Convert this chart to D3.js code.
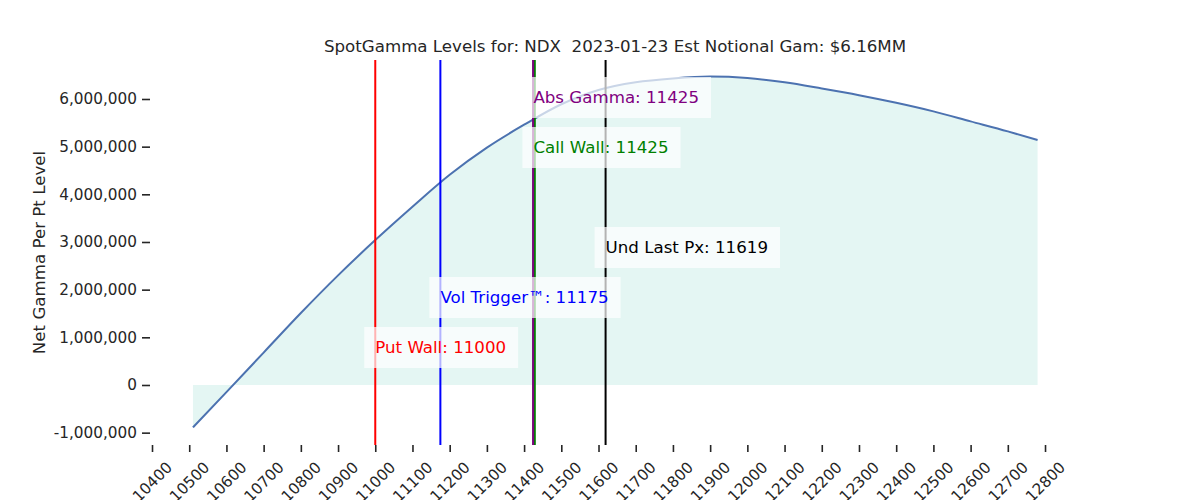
<!DOCTYPE html>
<html>
<head>
<meta charset="utf-8">
<script src="https://cdn.jsdelivr.net/npm/d3@7"></script>
<style>
  html, body { margin: 0; padding: 0; background: #ffffff; }
  svg { display: block; font-family: "DejaVu Sans", sans-serif; }
</style>
</head>
<body>
<svg id="chart" width="1200" height="500"></svg>
<script>
// ---- data ----
const titleText = "SpotGamma Levels for: NDX  2023-01-23 Est Notional Gam: $6.16MM";
const yLabelText = "Net Gamma Per Pt Level";
const strikes = [10510, 10600, 10700, 10800, 10900, 11000, 11100, 11200, 11300, 11400, 11500, 11600, 11700, 11800, 11900, 12000, 12100, 12200, 12300, 12400, 12500, 12600, 12700, 12780];
const netGamma = [-890000, -150000, 680000, 1510000, 2300000, 3040000, 3740000, 4410000, 4980000, 5460000, 5890000, 6190000, 6350000, 6430000, 6470000, 6440000, 6350000, 6220000, 6080000, 5920000, 5740000, 5530000, 5320000, 5140000];
const xTickValues = [10400, 10500, 10600, 10700, 10800, 10900, 11000, 11100, 11200, 11300, 11400, 11500, 11600, 11700, 11800, 11900, 12000, 12100, 12200, 12300, 12400, 12500, 12600, 12700, 12800];
const yTickValues = [-1000000, 0, 1000000, 2000000, 3000000, 4000000, 5000000, 6000000];
const levelNames = ["Call Wall", "Abs Gamma", "Und Last Px", "Vol Trigger™", "Put Wall"];
const levelValues = [11425, 11425, 11619, 11175, 11000];

// ---- styling / layout (not data) ----
const levelColors = ["green", "purple", "black", "blue", "red"];
const levelRows = [1, 0, 3, 4, 5];
const levelWidths = [3.4, 2, 2, 2, 2];
const levelShift = [0.7, -0.3, 0, 0, 0];
const M = { left: 150, right: 1080, top: 60, bottom: 445 };
const ink = "#262626";

const svg = d3.select("#chart");

const x = d3.scaleLinear().domain([10394.6, 12894]).range([M.left, M.right]);
const y = d3.scaleLinear().domain([-1259000, 6818000]).range([M.bottom, M.top]);

const data = strikes.map((s, i) => ({ s, g: netGamma[i] }));

// fill between 0 and curve
const area = d3.area()
  .x(d => x(d.s))
  .y0(y(0))
  .y1(d => y(d.g))
  .curve(d3.curveMonotoneX);
svg.append("path").datum(data)
  .attr("d", area)
  .attr("fill", "#e4f6f3");

// curve
const line = d3.line()
  .x(d => x(d.s))
  .y(d => y(d.g))
  .curve(d3.curveMonotoneX);
svg.append("path").datum(data)
  .attr("d", line)
  .attr("fill", "none")
  .attr("stroke", "#4c72b0")
  .attr("stroke-width", 2);

// vertical level lines
levelValues.forEach((v, i) => {
  svg.append("line")
    .attr("x1", x(v) + levelShift[i]).attr("x2", x(v) + levelShift[i])
    .attr("y1", M.top).attr("y2", M.bottom)
    .attr("stroke", levelColors[i])
    .attr("stroke-width", levelWidths[i]);
});

// labels with boxes
levelValues.forEach((v, i) => {
  const cy = M.top + 37.5 + 50 * levelRows[i];
  const g = svg.append("g");
  const t = g.append("text")
    .attr("x", x(v))
    .attr("y", cy)
    .attr("dominant-baseline", "central")
    .attr("font-size", "16.67px")
    .attr("fill", levelColors[i])
    .text(levelNames[i] + ": " + v);
  const bb = t.node().getBBox();
  g.insert("rect", "text")
    .attr("x", x(v) - 11)
    .attr("y", cy - 20.5)
    .attr("width", bb.width + 23)
    .attr("height", 41)
    .attr("fill", "#ffffff")
    .attr("fill-opacity", 0.7);
});

// y axis
const commaFmt = d3.format(",");
const yAxis = d3.axisLeft(y)
  .tickValues(yTickValues)
  .tickFormat(d => commaFmt(d).replace("\u2212", "-"))
  .tickSize(8)
  .tickPadding(5);
const gy = svg.append("g").attr("transform", `translate(${M.left},0)`).call(yAxis);
gy.select(".domain").remove();
gy.selectAll(".tick line").attr("stroke", ink).attr("stroke-width", 1.6);
gy.selectAll(".tick text").attr("fill", ink).attr("font-size", "15.28px")
  .attr("font-family", "DejaVu Sans, sans-serif");

// x axis
const xAxis = d3.axisBottom(x)
  .tickValues(xTickValues)
  .tickFormat(d3.format("d"))
  .tickSize(7);
const gx = svg.append("g").attr("transform", `translate(0,${M.bottom})`).call(xAxis);
gx.select(".domain").remove();
gx.selectAll(".tick line").attr("stroke", ink).attr("stroke-width", 1.6);
gx.selectAll(".tick text")
  .attr("fill", ink).attr("font-size", "15.28px")
  .attr("font-family", "DejaVu Sans, sans-serif")
  .attr("text-anchor", "middle")
  .attr("dominant-baseline", "central")
  .attr("y", 0).attr("dy", null)
  .attr("transform", "translate(0,37) rotate(-45)");

// title
svg.append("text")
  .attr("x", (M.left + M.right) / 2)
  .attr("y", 52)
  .attr("text-anchor", "middle")
  .attr("font-size", "16.67px")
  .attr("fill", ink)
  .attr("xml:space", "preserve")
  .style("white-space", "pre")
  .text(titleText);

// y label
svg.append("text")
  .attr("transform", `translate(45,${(M.top + M.bottom) / 2}) rotate(-90)`)
  .attr("text-anchor", "middle")
  .attr("font-size", "16.67px")
  .attr("fill", ink)
  .text(yLabelText);
</script>
</body>
</html>
